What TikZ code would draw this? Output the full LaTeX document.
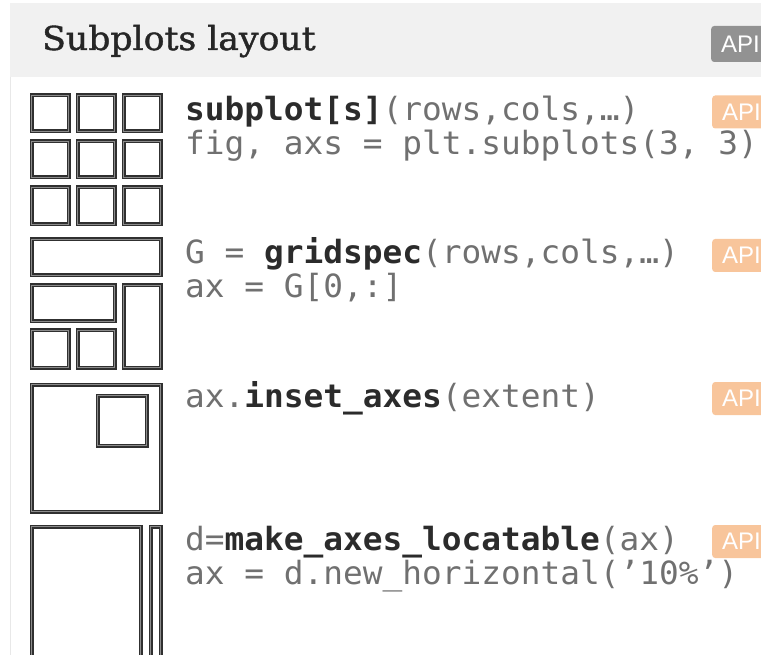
\documentclass[tikz,border=0pt]{standalone}
\usepackage{fontspec}
\setmonofont{DejaVu Sans Mono}
\newfontfamily\titlefont[FakeBold=1.2]{DejaVu Serif}
\newfontfamily\badgefont{Liberation Sans}

\definecolor{headbg}{HTML}{F1F1F1}
\definecolor{rulegray}{HTML}{E8E8E8}
\definecolor{apigray}{HTML}{929292}
\definecolor{apiorange}{HTML}{F8C59B}
\definecolor{codegray}{HTML}{707070}
\definecolor{codedark}{HTML}{2B2B2B}
\definecolor{boxline}{HTML}{303030}
\definecolor{boxmid}{HTML}{8C8C8C}

% bold keyword inside a code line
\newcommand\kwd[1]{{\bfseries\color{codedark}#1}}
% code text, slightly widened to the layout's character pitch
\newcommand\codetext[1]{\scalebox{1.025}[1]{#1}}

\tikzset{
  codeline/.style={anchor=base west, inner sep=0pt, text=codegray,
    font=\ttfamily\fontsize{32}{32}\selectfont},
  badge/.style={anchor=west, rounded corners=3pt, text=white,
    minimum height=33pt, inner xsep=10pt, inner ysep=0pt,
    font=\badgefont\fontsize{24}{24}\selectfont},
  axbox/.style={draw=boxline, line width=1.5pt, double=boxmid,
    double distance=1pt},
}

\begin{document}
\begin{tikzpicture}[x=1pt,y=-1pt]
  \useasboundingbox (0,0) rectangle (761,655);
  \clip (0,0) rectangle (761,655);

  % header band
  \fill[headbg] (10,3) rectangle (775,77);
  \draw[rulegray, line width=1pt] (10.5,77) -- (10.5,660);
  \node[anchor=base west, inner sep=0pt, text=black!85,
        font=\titlefont\fontsize{33}{33}\selectfont] (title) at (42,50)
        {\scalebox{1.05}[1]{Subplots layout}};
  \node[badge, fill=apigray, minimum height=36pt] (apihead) at (711,44) {API};

  % --- subplots: 3x3 grid
  \foreach \c/\xa/\xb in {1/31.5/68.5, 2/77.5/114.5, 3/123.5/160.5}
    \foreach \r/\ya/\yb in {1/95.5/131.5, 2/141.5/177.5, 3/187.5/224.5}
      \draw[axbox] (\xa,\ya) rectangle (\xb,\yb);
  \node[codeline] (subl1) at (185,121) {\codetext{\kwd{subplot[s]}(rows,cols,…)}};
  \node[codeline] (subl2) at (185,155) {\codetext{fig, axs = plt.subplots(3, 3)}};
  \node[badge, fill=apiorange] (apisub) at (712,112) {API};

  % --- gridspec layout
  \draw[axbox] (31.5,239.5) rectangle (160.5,275.5);
  \draw[axbox] (31.5,285.5) rectangle (114.5,321.5);
  \draw[axbox] (123.5,285.5) rectangle (160.5,367.5);
  \draw[axbox] (31.5,330.5) rectangle (68.5,367.5);
  \draw[axbox] (77.5,330.5) rectangle (114.5,367.5);
  \node[codeline] (gsl1) at (185,264) {\codetext{G = \kwd{gridspec}(rows,cols,…)}};
  \node[codeline] (gsl2) at (185,298) {\codetext{ax = G[0,:]}};
  \node[badge, fill=apiorange] (apigs) at (712,255.5) {API};

  % --- inset axes
  \draw[axbox] (31.5,384.5) rectangle (160.5,511.5);
  \draw[axbox] (97.5,395.5) rectangle (146.5,445.5);
  \node[codeline] (insl1) at (185,407) {\codetext{ax.\kwd{inset\_axes}(extent)}};
  \node[badge, fill=apiorange] (apiins) at (712,398.5) {API};

  % --- axes divider
  \draw[axbox] (31.5,526.5) rectangle (140.5,665);
  \draw[axbox] (150.5,526.5) rectangle (160.5,665);
  \node[codeline] (locl1) at (185,550) {\codetext{d=\kwd{make\_axes\_locatable}(ax)}};
  \node[codeline] (locl2) at (185,584) {\codetext{ax = d.new\_horizontal(’10\%’)}};
  \node[badge, fill=apiorange] (apiloc) at (712,541.5) {API};
\end{tikzpicture}
\end{document}
